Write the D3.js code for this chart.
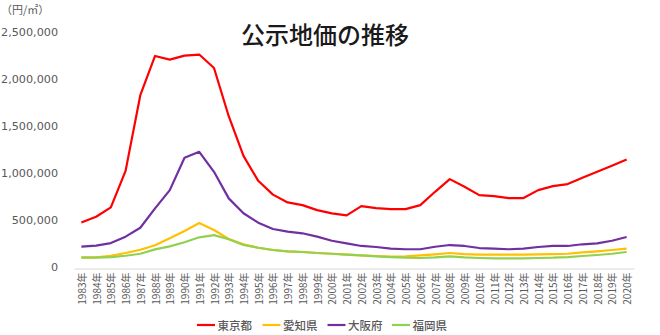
<!DOCTYPE html>
<html>
<head>
<meta charset="utf-8">
<script src="https://cdn.jsdelivr.net/npm/d3@7"></script>
<style>
  html, body { margin: 0; padding: 0; background: #fff; }
  svg { display: block; }
</style>
</head>
<body>
<svg id="chart" width="660" height="335"></svg>
<script>
const years = ["1983","1984","1985","1986","1987","1988","1989","1990","1991","1992","1993","1994","1995","1996","1997","1998","1999","2000","2001","2002","2003","2004","2005","2006","2007","2008","2009","2010","2011","2012","2013","2014","2015","2016","2017","2018","2019","2020"];

const tokyo = [491000,551000,651000,1040000,1846000,2264000,2225000,2268000,2279000,2136000,1622000,1200000,934000,787000,704000,675000,622000,587000,566000,665000,644000,633000,633000,675000,817000,952000,870000,782000,771000,750000,750000,835000,878000,899000,966000,1030000,1094000,1162000];
const aichi = [119000,119000,136000,165000,200000,247000,321000,399000,484000,410000,314000,257000,221000,197000,183000,176000,165000,157000,147000,140000,133000,126000,130000,140000,151000,165000,154000,147000,147000,147000,147000,151000,154000,157000,172000,183000,197000,211000];
const osaka = [232000,243000,271000,339000,434000,641000,835000,1179000,1243000,1030000,747000,588000,488000,421000,392000,375000,339000,296000,268000,240000,229000,211000,205000,205000,232000,250000,240000,218000,211000,205000,211000,229000,240000,240000,258000,268000,296000,335000];
const fukuoka = [115000,115000,122000,136000,157000,204000,236000,279000,332000,356000,311000,250000,221000,197000,183000,176000,165000,157000,147000,140000,130000,122000,115000,112000,119000,130000,119000,112000,108000,108000,108000,112000,115000,122000,133000,144000,157000,176000];

const seriesNames = ["東京都","愛知県","大阪府","福岡県"];
const seriesColors = ["#FF0000","#FFC000","#7030A0","#92D050"];
const yTicks = [0,500000,1000000,1500000,2000000,2500000];
const titleText = "公示地価の推移";
const unitText = "（円/㎡）";

const seriesData = [tokyo, aichi, osaka, fukuoka];

(function draw() {
const svg = d3.select("#chart");
const pL = 74, pR = 634, pT = 33.8, pB = 268.5;

const x = d3.scaleBand().domain(years).range([pL, pR]);
const y = d3.scaleLinear().domain([0, 2500000]).range([pB, pT]);

// title
svg.append("text")
  .attr("x", 325).attr("y", 33)
  .attr("text-anchor", "middle")
  .attr("dominant-baseline", "central")
  .attr("font-family", "'Noto Sans CJK JP', sans-serif")
  .attr("font-size", 24)
  .attr("font-weight", 500)
  .attr("fill", "#1a1a1a")
  .text(titleText);

// unit
svg.append("text")
  .attr("x", 1).attr("y", 9)
  .attr("dominant-baseline", "central")
  .attr("font-family", "'Noto Sans CJK JP', sans-serif")
  .attr("font-size", 11)
  .attr("fill", "#595959")
  .text(unitText);

// y axis labels
const yAxis = d3.axisLeft(y).tickValues(yTicks).tickSize(0).tickPadding(0)
  .tickFormat(d3.format(","));
const gy = svg.append("g").attr("transform", `translate(58,0)`).call(yAxis);
gy.select(".domain").remove();
gy.selectAll("text")
  .attr("font-family", "'DejaVu Sans', sans-serif")
  .attr("font-size", 11.2)
  .attr("fill", "#595959")
  .attr("dy", "0")
  .attr("y", -1.5)
  .attr("dominant-baseline", "central");

// x axis
const xAxis = d3.axisBottom(x).tickSize(0).tickPadding(0).tickFormat(d => d + "年");
const gx = svg.append("g").attr("transform", `translate(0,${pB})`).call(xAxis);
gx.select(".domain").attr("stroke", "#D9D9D9").attr("stroke-width", 1);
gx.selectAll("text")
  .attr("font-family", "'Noto Sans CJK JP', sans-serif")
  .attr("font-size", 10)
  .attr("fill", "#595959")
  .attr("text-anchor", "end")
  .attr("dominant-baseline", "central")
  .attr("dy", "0")
  .attr("y", 0)
  .attr("x", 0)
  .attr("transform", "translate(0,4) rotate(-90)");

// lines
const line = d3.line()
  .x((d, i) => x(years[i]) + x.bandwidth() / 2)
  .y(d => y(d));

seriesData.forEach((s, k) => {
  svg.append("path")
    .datum(s)
    .attr("fill", "none")
    .attr("stroke", seriesColors[k])
    .attr("stroke-width", 2.2)
    .attr("stroke-linejoin", "round")
    .attr("d", line);
});

// legend
const legendX = [197, 262.5, 327.5, 392];
const legend = svg.append("g");
seriesNames.forEach((n, k) => {
  legend.append("line")
    .attr("x1", legendX[k]).attr("x2", legendX[k] + 18)
    .attr("y1", 325).attr("y2", 325)
    .attr("stroke", seriesColors[k]).attr("stroke-width", 2.2);
  legend.append("text")
    .attr("x", legendX[k] + 20.5).attr("y", 325)
    .attr("dominant-baseline", "central")
    .attr("font-family", "'Noto Sans CJK JP', sans-serif")
    .attr("font-size", 11.5)
    .attr("font-weight", 500)
    .attr("fill", "#595959")
    .text(n);
});
})();
</script>
</body>
</html>
